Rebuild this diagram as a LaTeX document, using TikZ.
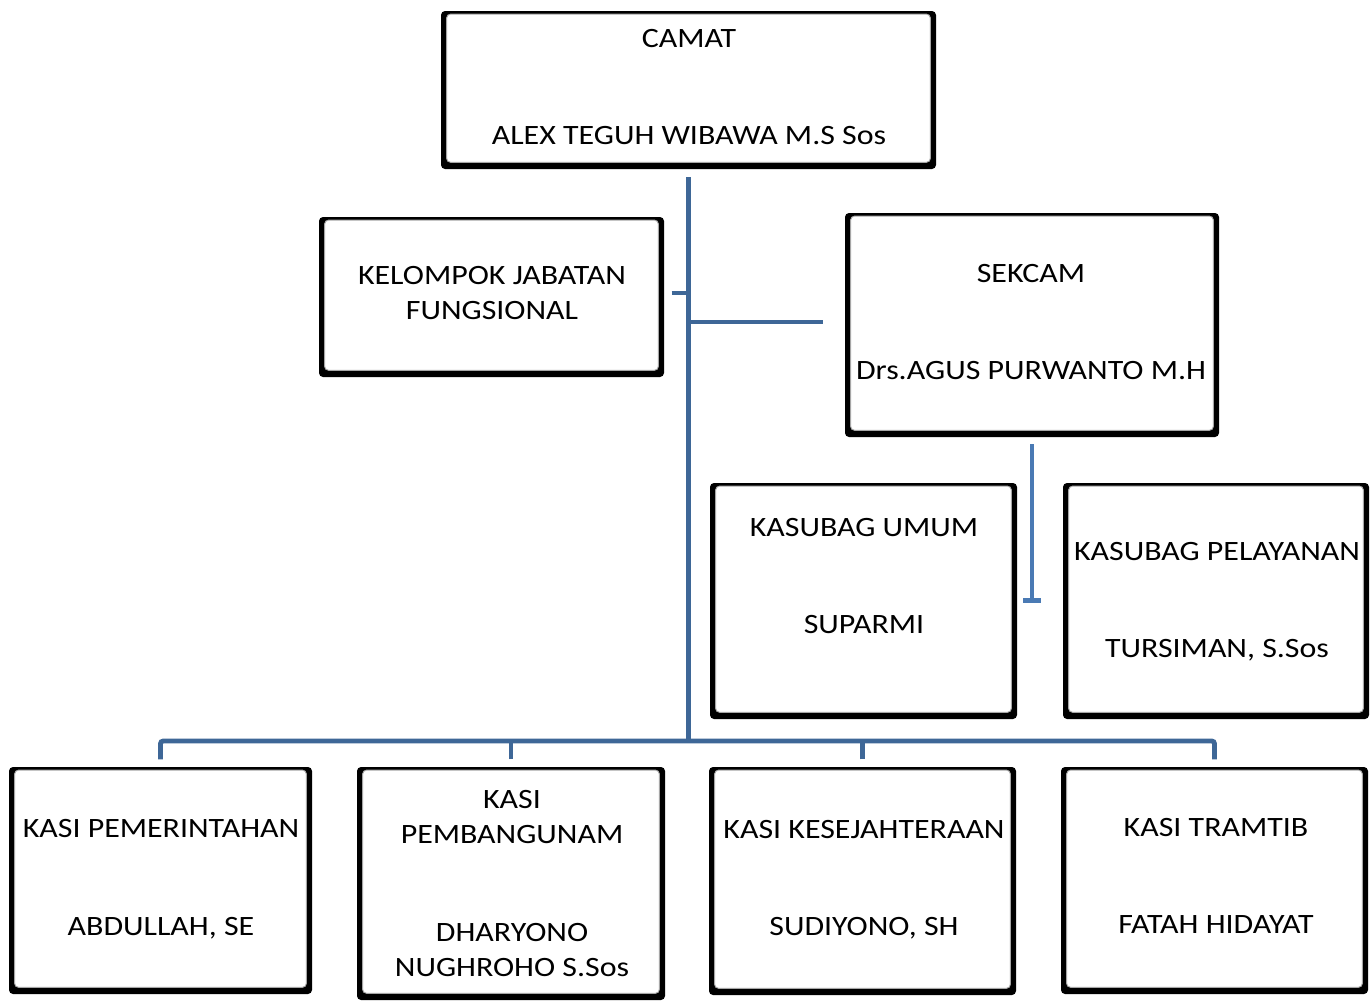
\documentclass[tikz,border=0pt]{standalone}
\usepackage{fontspec}
\setmainfont{Carlito}[FakeStretch=1.14]
\usetikzlibrary{fit,calc}
\definecolor{mainblue}{HTML}{3E6797}
\definecolor{subblue}{HTML}{4A7AB4}
\begin{document}
\begin{tikzpicture}[x=0.75pt,y=-0.75pt,
  box/.style={rectangle, rounded corners=3pt, fill=black, inner sep=0pt, draw=none,
    path picture={
      \fill[white] ([xshift=4.2pt,yshift=5pt]path picture bounding box.south west) rectangle ([xshift=-4.2pt,yshift=-2.3pt]path picture bounding box.north east);
      \draw[black!35, line width=0.7pt] ([xshift=4.2pt,yshift=5pt]path picture bounding box.south west) rectangle ([xshift=-4.2pt,yshift=-2.3pt]path picture bounding box.north east);
    }},
  txt/.style={anchor=base, inner sep=0pt, font=\fontsize{21pt}{25pt}\selectfont},
  conn/.style={draw=mainblue, line width=3.6pt},
  conn2/.style={draw=subblue, line width=3.6pt}]
\useasboundingbox (0,0) rectangle (1371,1000);

% boxes
\node[box, fit={(441,11) (936,169)}] (camat) {};
\node[box, fit={(319,217) (664,377)}] (kel) {};
\node[box, fit={(845,213) (1219,437)}] (sek) {};
\node[box, fit={(710,483) (1017,719)}] (umum) {};
\node[box, fit={(1063,483) (1369,719)}] (pel) {};
\node[box, fit={(9,767) (312,994)}] (pemer) {};
\node[box, fit={(357,767) (665,1000)}] (pemb) {};
\node[box, fit={(709,767) (1016,995)}] (kesej) {};
\node[box, fit={(1061,767) (1368,994)}] (tramtib) {};

% texts
\node[txt] (camat1) at (689,47) {CAMAT};
\node[txt] (camat2) at (689,144) {ALEX TEGUH WIBAWA M.S Sos};
\node[txt] (kel1) at (492,284) {KELOMPOK JABATAN};
\node[txt] (kel2) at (492,319) {FUNGSIONAL};
\node[txt] (sek1) at (1031,282) {SEKCAM};
\node[txt] (sek2) at (1031,379) {Drs.AGUS PURWANTO M.H};
\node[txt] (umum1) at (864,536) {KASUBAG UMUM};
\node[txt] (umum2) at (864,633) {SUPARMI};
\node[txt] (pel1) at (1217,560) {KASUBAG PELAYANAN};
\node[txt] (pel2) at (1217,657) {TURSIMAN, S.Sos};
\node[txt] (pemer1) at (161,837) {KASI PEMERINTAHAN};
\node[txt] (pemer2) at (161,935) {ABDULLAH, SE};
\node[txt] (pemb1) at (512,808) {KASI};
\node[txt] (pemb2) at (512,843) {PEMBANGUNAM};
\node[txt] (pemb3) at (512,941) {DHARYONO};
\node[txt] (pemb4) at (512,976) {NUGHROHO S.Sos};
\node[txt] (kesej1) at (864,838) {KASI KESEJAHTERAAN};
\node[txt] (kesej2) at (864,935) {SUDIYONO, SH};
\node[txt] (tram1) at (1216,836) {KASI TRAMTIB};
\node[txt] (tram2) at (1216,933) {FATAH HIDAYAT};

% connectors
\coordinate (bus) at (689,741);
\draw[conn] ([yshift=-6pt]camat.south) -- (camat.south |- bus);
\draw[conn, rounded corners=2pt] ([yshift=5.5pt]pemer.north) -- (pemer.north |- bus) -- (tramtib.north |- bus) -- ([yshift=5.5pt]tramtib.north);
\draw[conn] ([yshift=5.5pt]pemb.north) -- (pemb.north |- bus);
\draw[conn] ([yshift=5.5pt]kesej.north) -- (kesej.north |- bus);
\coordinate (kj) at ([xshift=5.5pt,yshift=3pt]kel.east);
\draw[conn] (kj) -- (kj -| camat.south);
\coordinate (sj) at ([xshift=-16.5pt,yshift=2.25pt]sek.west);
\draw[conn] (sj -| camat.south) -- (sj);
\draw[conn2] ([yshift=-5.25pt]sek.south) -- ++(0,156) coordinate (st);
\draw[conn2] ([xshift=-6.5pt]st) -- ([xshift=6.5pt]st);
\end{tikzpicture}
\end{document}
